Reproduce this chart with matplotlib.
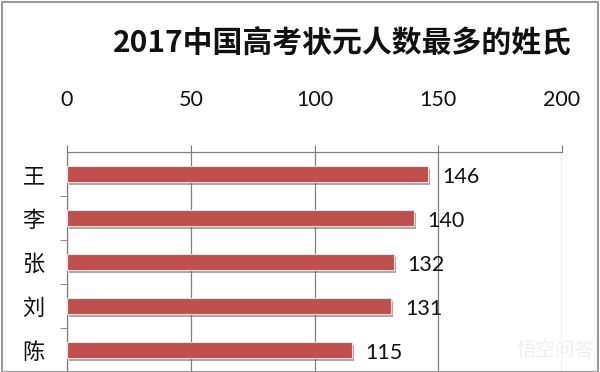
import matplotlib
matplotlib.use("Agg")
import matplotlib.pyplot as plt
import matplotlib.patheffects as pe
from matplotlib.patches import Rectangle
import numpy as np

plt.rcParams['font.family'] = ['Noto Sans CJK SC', 'DejaVu Sans']

title = "2017中国高考状元人数最多的姓氏"
surnames = ["王", "李", "张", "刘", "陈"]
counts = [146, 140, 132, 131, 115]
xticks = [0, 50, 100, 150, 200]

fig = plt.figure(figsize=(6.0, 3.72), dpi=100)
ax = fig.add_axes([67/600, 0/372, (562-67)/600, (371-152)/372 + 1/372])

y = np.arange(len(surnames))
bars = ax.barh(y, counts, height=0.36, color="#C0504D", edgecolor="#F2DCDB",
               linewidth=0.8, zorder=3)
for b in bars:
    b.set_path_effects([pe.SimplePatchShadow(offset=(1.5, -2), shadow_rgbFace="#555555", alpha=0.5),
                        pe.Normal()])

for yi, v in zip(y, counts):
    ax.annotate(str(v), (v, yi), xytext=(10, -2), textcoords="offset points",
                ha="left", va="center", fontsize=15.5, color="#111111",
                family=['Lato', 'DejaVu Sans'])

ax.set_xlim(0, 200)
ax.set_ylim(len(surnames) - 0.5, -0.5)
ax.set_xticks(xticks)
ax.xaxis.tick_top()
ax.tick_params(axis="x", which="major", length=5, pad=25, labelsize=15.5,
               color="#777777", labelcolor="#111111")
for lab in ax.get_xticklabels():
    lab.set_family(['Lato', 'DejaVu Sans'])
ax.set_yticks(y)
ax.set_yticklabels(surnames)
ax.tick_params(axis="y", which="major", length=0, pad=16, labelsize=16, labelcolor="#111111")
ax.set_yticks(np.arange(len(surnames)) + 0.5, minor=True)
ax.tick_params(axis="y", which="minor", length=5, color="#777777")

ax.grid(axis="x", color="#808080", linewidth=0.9, zorder=0)
for s in ["bottom", "right"]:
    ax.spines[s].set_visible(False)
for s in ["top", "left"]:
    ax.spines[s].set_color("#808080")
    ax.spines[s].set_linewidth(0.9)

fig.text(0.571, 1 - 43/372, title, ha="center", va="center", fontsize=21.5,
         fontweight="bold", color="#111111")

fig.text(0.925, 1 - 350/372, "悟空问答", ha="center", va="center", fontsize=14,
         color="#eeeeee")

fig.add_artist(Rectangle((0.004, 0.0), 0.992, 0.994, transform=fig.transFigure,
                         fill=False, edgecolor="#999999", linewidth=1.5))

fig.savefig("out.png", dpi=100)
